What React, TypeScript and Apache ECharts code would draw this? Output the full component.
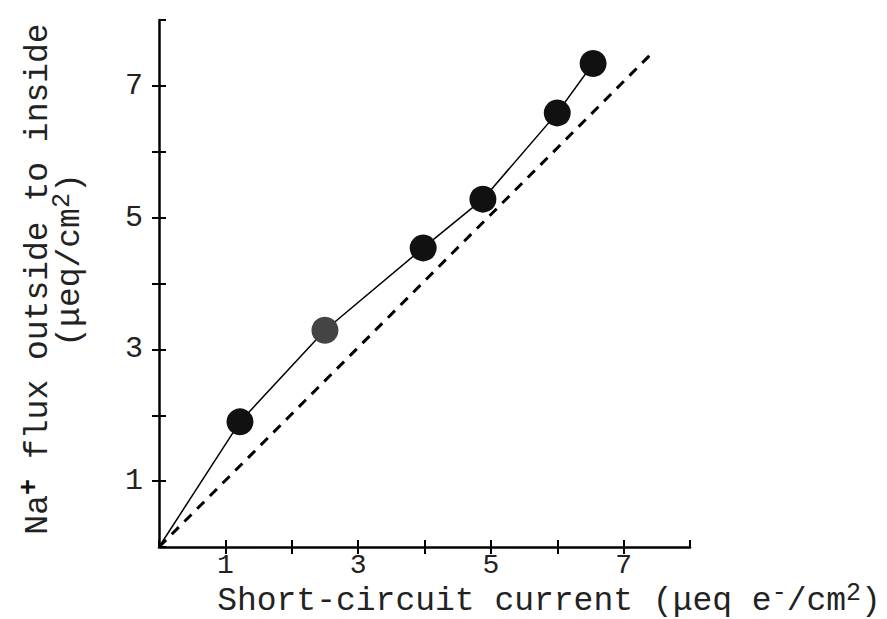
import React, { useEffect, useRef } from "react";
import * as echarts from "echarts";

// Measured points: short-circuit current (x) vs Na+ influx (y)
const currentValues = [1.22, 2.5, 3.98, 4.88, 6.0, 6.54];
const fluxValues = [1.9, 3.29, 4.54, 5.28, 6.59, 7.34];
const pointColors = ["#111", "#444", "#111", "#111", "#111", "#111"];
// Identity (dashed) reference line endpoints
const identityX = [0, 7.43];
const identityY = [0, 7.5];
const tickLabels = ["1", "3", "5", "7"];

const FONT = "'Liberation Mono', 'DejaVu Sans Mono', monospace";

export default function App() {
  const ref = useRef<HTMLDivElement>(null);
  useEffect(() => {
    if (!ref.current) return;
    const chart = echarts.init(ref.current, null, { renderer: "svg" });
    const measured: any[] = [{ value: [0, 0], symbol: "none" }];
    currentValues.forEach((x, i) =>
      measured.push({ value: [x, fluxValues[i]], itemStyle: { color: pointColors[i] } })
    );
    const identity = identityX.map((x, i) => [x, identityY[i]]);
    const fmt = (v: number) => (tickLabels.includes(String(v)) ? String(v) : "");
    const axisCommon = {
      type: "value",
      min: 0,
      max: 8,
      interval: 1,
      splitLine: { show: false },
    };
    chart.setOption({
      animation: false,
      backgroundColor: "#fff",
      grid: { left: 159, right: 197, top: 20, bottom: 72 },
      xAxis: [
        {
          ...axisCommon,
          position: "bottom",
          axisLine: { show: true, lineStyle: { color: "#000", width: 2.5 } },
          axisTick: { show: true, length: 7, lineStyle: { color: "#000", width: 2 } },
          axisLabel: {
            formatter: fmt,
            color: "#222",
            fontFamily: FONT,
            fontSize: 28,
            lineHeight: 24,
            margin: 6,
            showMinLabel: false,
            showMaxLabel: false,
          },
        },
        {
          ...axisCommon,
          position: "bottom",
          axisLine: { show: false },
          axisTick: { show: true, inside: true, length: 7, lineStyle: { color: "#000", width: 2 } },
          axisLabel: { show: false },
        },
      ],
      yAxis: [
        {
          ...axisCommon,
          position: "left",
          axisLine: { show: true, lineStyle: { color: "#000", width: 2.5 } },
          axisTick: { show: true, length: 7, lineStyle: { color: "#000", width: 2 } },
          axisLabel: {
            formatter: fmt,
            color: "#222",
            fontFamily: FONT,
            fontSize: 30,
            margin: 16,
            showMinLabel: false,
            showMaxLabel: false,
          },
        },
        {
          ...axisCommon,
          position: "left",
          axisLine: { show: false },
          axisTick: { show: true, inside: true, length: 7, lineStyle: { color: "#000", width: 2 } },
          axisLabel: { show: false },
        },
      ],
      series: [
        {
          type: "line",
          data: identity,
          showSymbol: false,
          symbol: "none",
          lineStyle: { color: "#000", width: 3, type: [10, 8] },
          z: 2,
        },
        {
          type: "line",
          data: measured,
          symbol: "circle",
          symbolSize: 27,
          itemStyle: { color: "#111" },
          lineStyle: { color: "#000", width: 1.5 },
          z: 3,
        },
      ],
      graphic: [
        {
          type: "text",
          x: 549,
          y: 601,
          style: {
            text: "{n|Short-circuit current (μeq e}{s|-}{n|/cm}{s|2}{n|)}",
            fontFamily: FONT,
            fontSize: 33,
            fill: "#222",
            align: "center",
            verticalAlign: "middle",
            rich: {
              n: { fontFamily: FONT, fontSize: 33, lineHeight: 30, fill: "#222" },
              s: { fontFamily: FONT, fontSize: 25, fill: "#222", verticalAlign: "top", padding: [0, 0, 16, 0] },
            },
          },
        },
        {
          type: "text",
          x: 38,
          y: 279,
          rotation: Math.PI / 2,
          style: {
            text: "{n|Na}{s|+}{n| flux outside to inside}",
            fontFamily: FONT,
            fontSize: 33,
            fill: "#222",
            align: "center",
            verticalAlign: "middle",
            rich: {
              n: { fontFamily: FONT, fontSize: 33, fill: "#222" },
              s: { fontFamily: FONT, fontSize: 27, fontWeight: "bold", fill: "#111", verticalAlign: "top", padding: [0, 0, 16, 0] },
            },
          },
        },
        {
          type: "text",
          x: 70,
          y: 260,
          rotation: Math.PI / 2,
          style: {
            text: "{n|(μeq/cm}{s|2}{n|)}",
            fontFamily: FONT,
            fontSize: 33,
            fill: "#222",
            align: "center",
            verticalAlign: "middle",
            rich: {
              n: { fontFamily: FONT, fontSize: 33, fill: "#222" },
              s: { fontFamily: FONT, fontSize: 25, fill: "#222", verticalAlign: "top", padding: [0, 0, 16, 0] },
            },
          },
        },
      ],
    });
    return () => chart.dispose();
  }, []);
  return (
    <div
      ref={ref}
      style={{ position: "absolute", left: 0, top: 0, width: 887, height: 619 }}
    />
  );
}
